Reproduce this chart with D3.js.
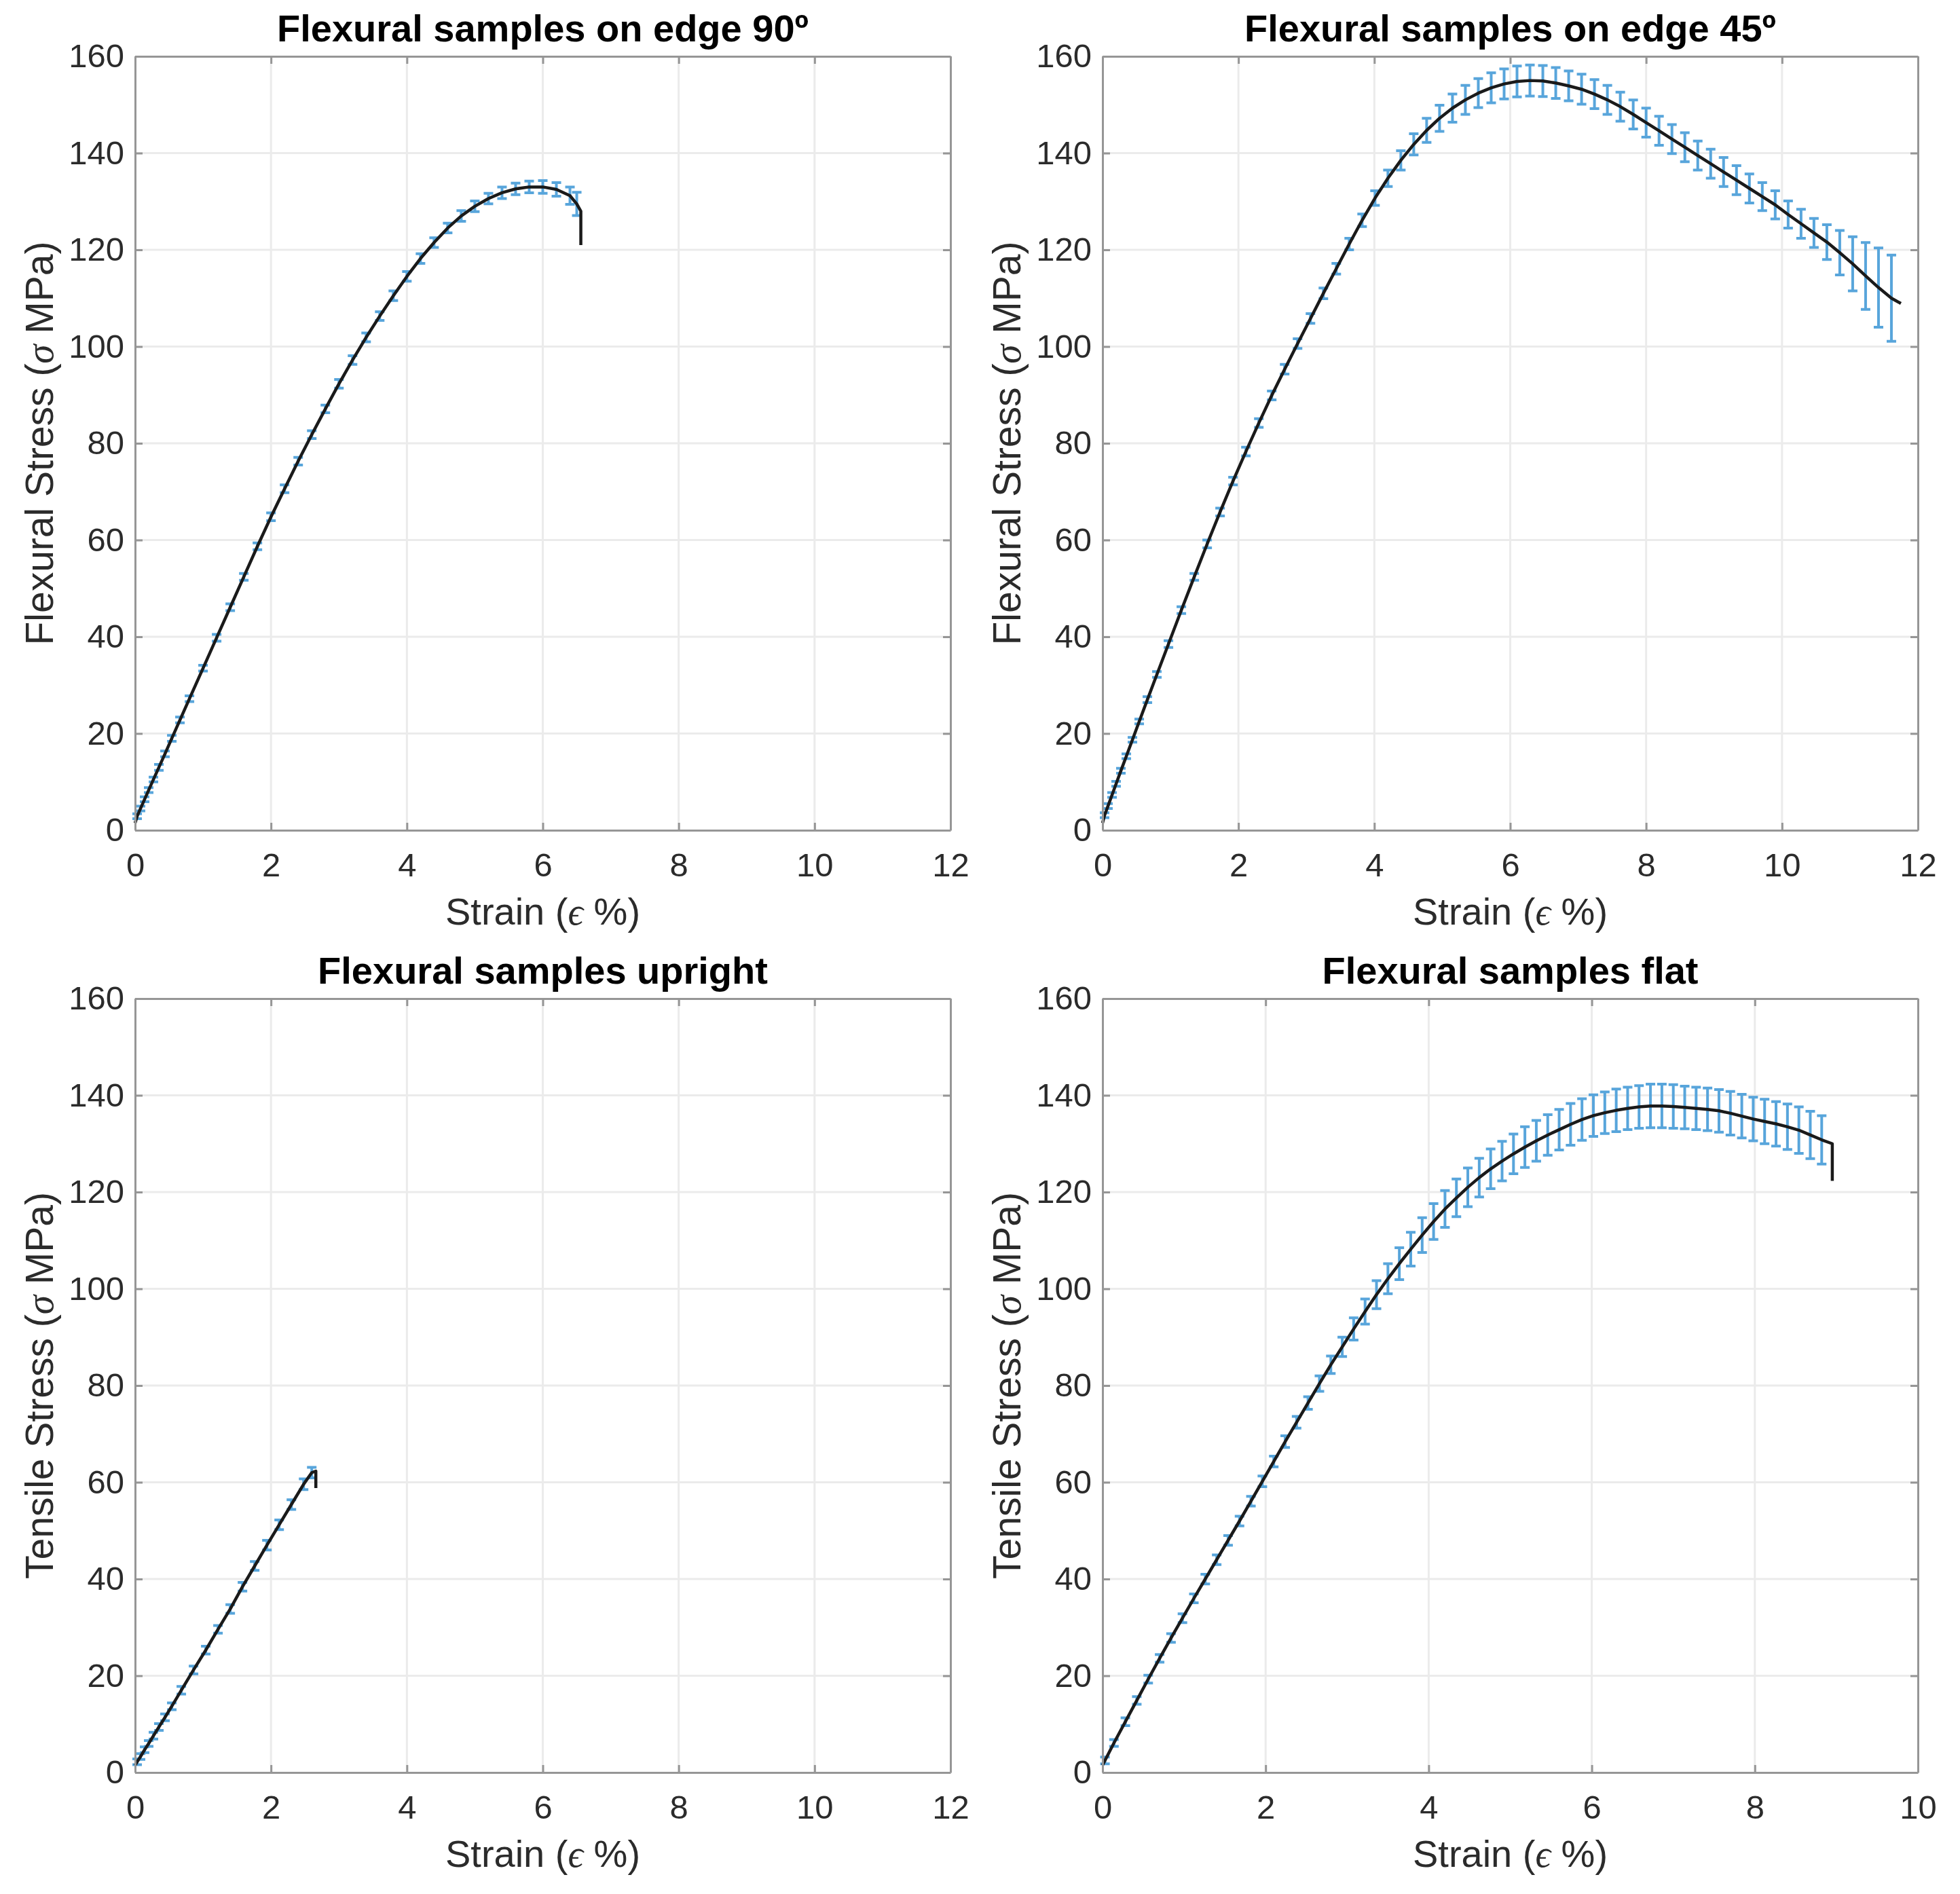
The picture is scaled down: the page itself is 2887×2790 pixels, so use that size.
<!DOCTYPE html>
<html>
<head>
<meta charset="utf-8">
<script src="https://cdn.jsdelivr.net/npm/d3@7"></script>
<style>
  body { margin: 0; background: #fff; }
  text { font-family: "Liberation Sans", Arial, sans-serif; }
</style>
</head>
<body>
<div id="chart"></div>
<script>
// ---- data (strain %, mean stress MPa, std MPa) ----
const yTicks = [0, 20, 40, 60, 80, 100, 120, 140, 160];
const xTicks12 = [0, 2, 4, 6, 8, 10, 12];
const xTicks10 = [0, 2, 4, 6, 8, 10];

// on edge 90º
const edge90Strain = [0.03, 0.08, 0.14, 0.2, 0.27, 0.35, 0.44, 0.54, 0.66, 0.8, 1.0, 1.2, 1.4, 1.6, 1.8, 2.0, 2.2, 2.4, 2.6, 2.8, 3.0, 3.2, 3.4, 3.6, 3.8, 4.0, 4.2, 4.4, 4.6, 4.8, 5.0, 5.2, 5.4, 5.6, 5.8, 6.0, 6.2, 6.4, 6.5];
const edge90Stress = [2.9, 4.5, 6.4, 8.3, 10.5, 13, 15.8, 19, 22.8, 27.2, 33.5, 39.8, 46.1, 52.4, 58.7, 64.8, 70.6, 76.3, 81.8, 87.1, 92.3, 97.2, 101.9, 106.3, 110.5, 114.5, 118.2, 121.5, 124.5, 127, 129, 130.6, 131.8, 132.6, 133, 133, 132.5, 131.2, 129.5];
const edge90Err = [0.5, 0.5, 0.5, 0.5, 0.5, 0.6, 0.6, 0.6, 0.6, 0.6, 0.6, 0.7, 0.7, 0.7, 0.7, 0.8, 0.8, 0.8, 0.8, 0.8, 0.9, 0.9, 0.9, 0.9, 1.0, 1.0, 1.0, 1.0, 1.0, 1.1, 1.1, 1.1, 1.2, 1.2, 1.2, 1.3, 1.4, 1.8, 2.4];
const edge90TailStrain = [6.56, 6.56];
const edge90TailStress = [128, 121];

// on edge 45º
const edge45Strain = [0.03, 0.08, 0.14, 0.2, 0.27, 0.35, 0.44, 0.54, 0.66, 0.8, 0.97, 1.16, 1.35, 1.54, 1.73, 1.92, 2.11, 2.30, 2.49, 2.68, 2.87, 3.06, 3.25, 3.44, 3.63, 3.82, 4.01, 4.20, 4.39, 4.58, 4.77, 4.96, 5.15, 5.34, 5.53, 5.72, 5.91, 6.10, 6.29, 6.48, 6.67, 6.86, 7.05, 7.24, 7.43, 7.62, 7.81, 8.00, 8.19, 8.38, 8.57, 8.76, 8.95, 9.14, 9.33, 9.52, 9.71, 9.90, 10.09, 10.28, 10.47, 10.66, 10.85, 11.04, 11.23, 11.42, 11.61];
const edge45Stress = [3.1, 5, 7.3, 9.6, 12.3, 15.3, 18.7, 22.5, 27, 32.2, 38.5, 45.5, 52.4, 59.2, 65.8, 72.2, 78.3, 84.2, 89.9, 95.3, 100.6, 105.8, 111, 116.1, 121.2, 126.1, 130.7, 134.8, 138.5, 141.8, 144.7, 147.2, 149.3, 151, 152.4, 153.5, 154.3, 154.8, 155, 154.9, 154.5, 153.9, 153.2, 152.2, 151, 149.6, 148, 146.3, 144.6, 142.9, 141.2, 139.5, 137.8, 136.1, 134.4, 132.7, 131, 129.3, 127.3, 125.4, 123.5, 121.6, 119.4, 117.1, 114.6, 112.2, 110];
const edge45Err = [0.5, 0.5, 0.5, 0.5, 0.5, 0.5, 0.5, 0.5, 0.6, 0.6, 0.7, 0.7, 0.7, 0.8, 0.8, 0.8, 0.9, 0.9, 0.9, 1.0, 1.0, 1.0, 1.1, 1.1, 1.2, 1.3, 1.5, 1.7, 2.0, 2.2, 2.5, 2.7, 2.9, 3.0, 3.0, 3.1, 3.1, 3.2, 3.2, 3.2, 3.2, 3.1, 3.1, 3.0, 3.0, 3.0, 3.0, 3.0, 3.0, 3.0, 3.0, 3.0, 3.0, 3.0, 3.0, 3.0, 2.9, 2.9, 2.8, 3.0, 3.0, 3.6, 4.6, 5.6, 6.9, 8.2, 8.9];
const edge45TailStrain = [11.75];
const edge45TailStress = [108.9];

// upright
const uprightStrain = [0.03, 0.08, 0.14, 0.2, 0.27, 0.35, 0.44, 0.54, 0.68, 0.86, 1.04, 1.22, 1.40, 1.58, 1.76, 1.94, 2.12, 2.30, 2.48, 2.60];
const uprightStress = [2.2, 3.3, 4.7, 6, 7.6, 9.4, 11.4, 13.7, 17, 21.2, 25.3, 29.6, 33.8, 38.4, 42.7, 47, 51.2, 55.4, 59.6, 62];
const uprightErr = [0.6, 0.6, 0.6, 0.6, 0.7, 0.7, 0.7, 0.7, 0.8, 0.8, 0.8, 0.8, 0.9, 0.9, 0.9, 1.0, 1.0, 1.0, 1.1, 1.1];
const uprightTailStrain = [2.66, 2.66];
const uprightTailStress = [62.3, 58.8];

// flat
const flatStrain = [0.03, 0.14, 0.28, 0.42, 0.56, 0.70, 0.84, 0.98, 1.12, 1.26, 1.40, 1.54, 1.68, 1.82, 1.96, 2.10, 2.24, 2.38, 2.52, 2.66, 2.80, 2.94, 3.08, 3.22, 3.36, 3.50, 3.64, 3.78, 3.92, 4.06, 4.20, 4.34, 4.48, 4.62, 4.76, 4.90, 5.04, 5.18, 5.32, 5.46, 5.60, 5.74, 5.88, 6.02, 6.16, 6.30, 6.44, 6.58, 6.72, 6.86, 7.00, 7.14, 7.28, 7.42, 7.56, 7.70, 7.84, 7.98, 8.12, 8.26, 8.40, 8.54, 8.68, 8.82];
const flatStress = [2.5, 6.1, 10.5, 14.9, 19.3, 23.6, 27.8, 31.9, 36, 40, 44, 48, 52, 56.1, 60.2, 64.3, 68.4, 72.4, 76.4, 80.4, 84.3, 88, 91.7, 95.3, 98.8, 102.1, 105.2, 108.2, 111.1, 113.9, 116.5, 118.8, 121, 123, 124.8, 126.4, 127.9, 129.3, 130.6, 131.8, 132.9, 134, 135, 135.8, 136.4, 136.9, 137.3, 137.6, 137.8, 137.8, 137.7, 137.5, 137.3, 137.1, 136.8, 136.3, 135.7, 135.1, 134.6, 134.1, 133.5, 132.8, 131.8, 130.8];
const flatErr = [0.7, 0.7, 0.8, 0.8, 0.8, 0.8, 0.9, 0.9, 0.9, 1.0, 1.0, 1.0, 1.0, 1.0, 1.1, 1.1, 1.2, 1.2, 1.3, 1.6, 1.8, 2.0, 2.3, 2.6, 2.9, 3.1, 3.3, 3.5, 3.6, 3.7, 3.8, 3.9, 4.0, 4.0, 4.1, 4.1, 4.1, 4.2, 4.2, 4.2, 4.2, 4.3, 4.3, 4.3, 4.3, 4.4, 4.4, 4.4, 4.5, 4.5, 4.5, 4.4, 4.4, 4.4, 4.4, 4.5, 4.5, 4.5, 4.6, 4.6, 4.7, 4.8, 4.9, 5.0];
const flatTailStrain = [8.95, 8.95];
const flatTailStress = [130, 122.3];

// ---- layout ----
const dimensions = { width: 2887, height: 2790 };
const plotW = 1201, plotH = 1140;

const panels = [
    { title: 'Flexural samples on edge 90º', ylabel: 'Flexural Stress', xMax: 12, xTicks: xTicks12,
      strain: edge90Strain, stress: edge90Stress, err: edge90Err, tailX: edge90TailStrain, tailY: edge90TailStress,
      left: 199, top: 83 },
    { title: 'Flexural samples on edge 45º', ylabel: 'Flexural Stress', xMax: 12, xTicks: xTicks12,
      strain: edge45Strain, stress: edge45Stress, err: edge45Err, tailX: edge45TailStrain, tailY: edge45TailStress,
      left: 1624, top: 83 },
    { title: 'Flexural samples upright', ylabel: 'Tensile Stress', xMax: 12, xTicks: xTicks12,
      strain: uprightStrain, stress: uprightStress, err: uprightErr, tailX: uprightTailStrain, tailY: uprightTailStress,
      left: 199, top: 1471 },
    { title: 'Flexural samples flat', ylabel: 'Tensile Stress', xMax: 10, xTicks: xTicks10,
      strain: flatStrain, stress: flatStress, err: flatErr, tailX: flatTailStrain, tailY: flatTailStress,
      left: 1624, top: 1471 }
];

const svg = d3.select('#chart')
    .append('svg')
    .attr('width', dimensions.width)
    .attr('height', dimensions.height)
    .style('background', '#fff');

const axisColor = '#969696';
const tickColor = '#2b2b2b';
const barColor = '#58a5db';

panels.forEach(p => {
    const g = svg.append('g').attr('transform', `translate(${p.left}, ${p.top})`);

    const x = d3.scaleLinear().domain([0, p.xMax]).range([0, plotW]);
    const y = d3.scaleLinear().domain([0, 160]).range([plotH, 0]);

    // grid
    g.append('g').selectAll('line.gx')
        .data(p.xTicks.slice(1, -1))
        .enter().append('line')
            .attr('x1', d => x(d)).attr('x2', d => x(d))
            .attr('y1', 0).attr('y2', plotH)
            .attr('stroke', '#ebebeb').attr('stroke-width', 3);
    g.append('g').selectAll('line.gy')
        .data(yTicks.slice(1, -1))
        .enter().append('line')
            .attr('x1', 0).attr('x2', plotW)
            .attr('y1', d => y(d)).attr('y2', d => y(d))
            .attr('stroke', '#ebebeb').attr('stroke-width', 3);

    // error bars
    const pts = p.strain.map((s, i) => ({ x: s, y: p.stress[i], e: p.err[i] }));
    const bars = g.append('g').attr('stroke', barColor).attr('stroke-width', 4).attr('fill', 'none');
    bars.selectAll('path')
        .data(pts)
        .enter().append('path')
            .attr('d', d => {
                const cx = x(d.x), y1 = y(d.y + d.e), y2 = y(d.y - d.e), w = 7;
                return `M${cx},${y1}V${y2}M${cx - w},${y1}H${cx + w}M${cx - w},${y2}H${cx + w}`;
            });

    // mean curve
    const linePts = pts.map(d => [d.x, d.y]).concat(p.tailX.map((s, i) => [s, p.tailY[i]]));
    const line = d3.line().x(d => x(d[0])).y(d => y(d[1]));
    g.append('path')
        .datum([[0, 1.5]].concat(linePts))
        .attr('d', line)
        .attr('fill', 'none')
        .attr('stroke', '#1a1a1a')
        .attr('stroke-width', 4.5)
        .attr('stroke-linejoin', 'round');

    // axes (ticks inward on all four sides)
    const styleAxis = sel => {
        sel.select('.domain').attr('stroke', axisColor).attr('stroke-width', 3);
        sel.selectAll('.tick line').attr('stroke', axisColor).attr('stroke-width', 3);
        sel.selectAll('.tick text')
            .attr('fill', tickColor)
            .style('font-family', '"Liberation Sans", Arial, sans-serif')
            .style('font-size', '49px');
    };

    g.append('g')
        .attr('transform', `translate(0, ${plotH})`)
        .call(d3.axisBottom(x).tickValues(p.xTicks).tickFormat(d3.format('d')).tickSizeInner(-11).tickSizeOuter(0).tickPadding(33))
        .call(styleAxis);
    g.append('g')
        .call(d3.axisLeft(y).tickValues(yTicks).tickFormat(d3.format('d')).tickSizeInner(-11).tickSizeOuter(0).tickPadding(16))
        .call(styleAxis);
    g.append('g')
        .call(d3.axisTop(x).tickValues(p.xTicks).tickFormat('').tickSizeInner(-11).tickSizeOuter(0))
        .call(styleAxis);
    g.append('g')
        .attr('transform', `translate(${plotW}, 0)`)
        .call(d3.axisRight(y).tickValues(yTicks).tickFormat('').tickSizeInner(-11).tickSizeOuter(0))
        .call(styleAxis);

    // title
    g.append('text')
        .attr('x', plotW / 2)
        .attr('y', -22)
        .attr('text-anchor', 'middle')
        .style('font-size', '56px')
        .style('font-weight', 'bold')
        .attr('fill', '#000')
        .text(p.title);

    // x label
    const xl = g.append('text')
        .attr('x', plotW / 2)
        .attr('y', plotH + 139)
        .attr('text-anchor', 'middle')
        .style('font-size', '56px')
        .attr('fill', tickColor);
    xl.append('tspan').text('Strain (');
    xl.append('tspan').style('font-family', '"Liberation Serif", serif').style('font-style', 'italic').text('ϵ');
    xl.append('tspan').text(' %)');

    // y label
    const yl = g.append('text')
        .attr('transform', `translate(-121, ${plotH / 2}) rotate(-90)`)
        .attr('text-anchor', 'middle')
        .style('font-size', '57px')
        .attr('fill', tickColor);
    yl.append('tspan').text(p.ylabel + ' (');
    yl.append('tspan').style('font-family', '"Liberation Serif", serif').style('font-style', 'italic').text('σ');
    yl.append('tspan').text(' MPa)');
});
</script>
</body>
</html>
